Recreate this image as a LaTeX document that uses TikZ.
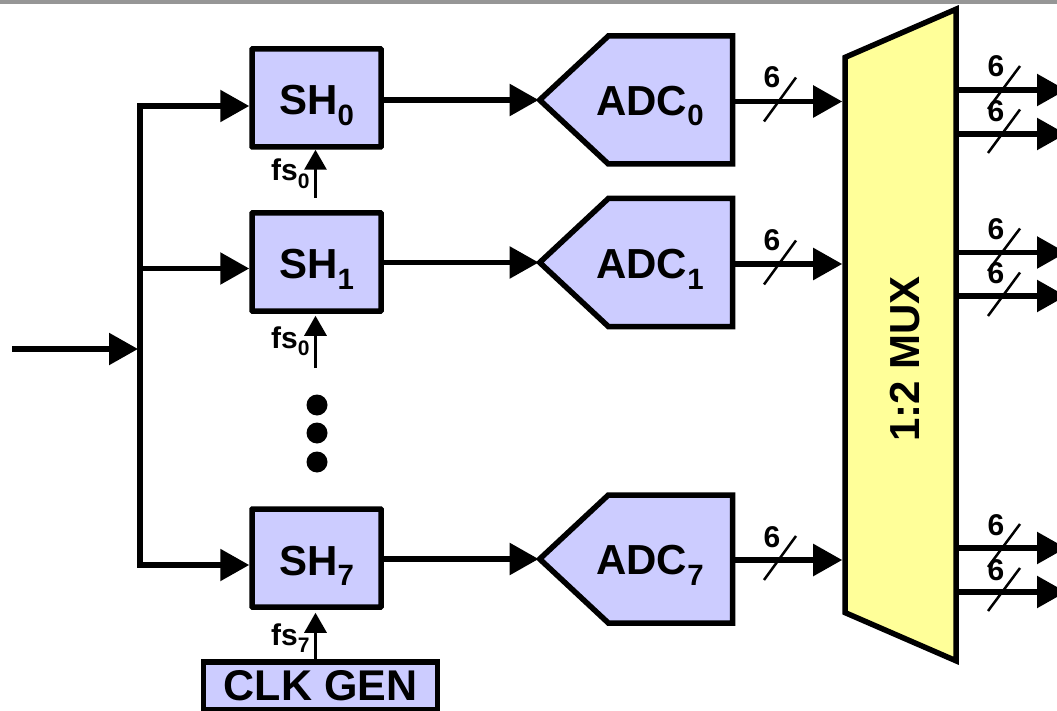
\documentclass[tikz,border=0pt]{standalone}
\usepackage{fontspec}
\setmainfont{Liberation Sans}
\usetikzlibrary{arrows.meta}
\usetikzlibrary{shapes.geometric}
\usetikzlibrary{shapes.symbols}
\definecolor{blockblue}{HTML}{CCCCFF}
\definecolor{muxyellow}{HTML}{FFFF99}
\definecolor{bargray}{HTML}{969696}
\newcommand{\lowidx}[1]{\raisebox{-0.26em}{\scalebox{0.7}{#1}}}
\tikzset{
    shnode/.style = {rectangle, rounded corners=0.5pt, draw=black, line width=5.5pt, fill=blockblue, inner sep=0pt, minimum width=129pt, minimum height=98pt, text height=34pt, text depth=0pt, font=\fontsize{42}{42}\selectfont\bfseries},
    adcnode/.style = {signal, signal to=west, signal pointer angle=86, draw=black, line width=5.5pt, fill=blockblue, inner sep=0pt, minimum width=193pt, minimum height=128pt},
    clknode/.style = {rectangle, draw=black, line width=5.5pt, fill=blockblue, inner sep=0pt, minimum width=234pt, minimum height=48pt, font=\fontsize{43}{43}\selectfont\bfseries},
    muxnode/.style = {trapezium, trapezium stretches=true, trapezium left angle=84, trapezium right angle=84, rotate=90, draw=black, line width=5.5pt, fill=muxyellow, inner sep=0pt, minimum width=652pt, minimum height=111pt},
    txtbig/.style = {inner sep=0pt, font=\fontsize{42}{42}\selectfont\bfseries},
    txtfs/.style = {inner sep=0pt, anchor=base west, font=\fontsize{30}{30}\selectfont\bfseries},
    txtbit/.style = {inner sep=0pt, font=\fontsize{30}{30}\selectfont\bfseries},
    dotnode/.style = {circle, fill=black, inner sep=0pt, minimum size=21pt},
    bus/.style = {line width=5.5pt, -{Triangle[length=29pt,width=31pt]}},
    busline/.style = {line width=5.5pt},
    clkline/.style = {line width=3pt, -{Triangle[length=20pt,width=22pt]}},
    slashmark/.style = {line width=2.5pt},
}
\begin{document}
\begin{tikzpicture}[x=1pt,y=-1pt]
\clip (0,0) rectangle (1057,711);
\fill[bargray] (0,0) rectangle (1057,4);
\node[shnode] at (316.5,98) (sh0) {SH\lowidx{0}};
\node[shnode] at (316.5,262) (sh1) {SH\lowidx{1}};
\node[shnode] at (316.5,558) (sh7) {SH\lowidx{7}};
\node[adcnode] at (670.5,100) (adc0) {};
\node[adcnode] at (670.5,262.5) (adc1) {};
\node[adcnode] at (670.5,559) (adc7) {};
\node[txtbig] at (650,106) (adc0t) {ADC\lowidx{0}};
\node[txtbig] at (650,269) (adc1t) {ADC\lowidx{1}};
\node[txtbig] at (650,565) (adc7t) {ADC\lowidx{7}};
\node[muxnode] at (900.5,335) (mux) {\phantom{M}};
\node[txtbig,rotate=90] at (905,359) (muxt) {1:2 MUX};
\node[clknode] at (320.5,686) (clk) {CLK GEN};
\node[dotnode] at (317,405) (dot0) {};
\node[dotnode] at (317,433) (dot1) {};
\node[dotnode] at (317,462) (dot2) {};
\node[txtfs] at (271,181) (fsl0) {fs\lowidx{0}};
\node[txtfs] at (271,348) (fsl1) {fs\lowidx{0}};
\node[txtfs] at (271,645) (fsl7) {fs\lowidx{7}};
\coordinate (in) at (12,349);
\coordinate (join) at (138,349);
\coordinate (tap0) at (140,106);
\coordinate (tap1) at (140,268.5);
\coordinate (tap7) at (140,565);
\coordinate (fs0) at (315.5,198);
\coordinate (fs1) at (315.5,368);
\coordinate (fs7) at (315.5,660);
\draw[bus] (in) to (join);
\draw[busline] ([yshift=2.75pt]tap0) to ([yshift=-2.75pt]tap7);
\draw[bus] (tap0) to (tap0 -| sh0.west);
\draw[bus] (tap1) to (tap1 -| sh1.west);
\draw[bus] (tap7) to (tap7 -| sh7.west);
\draw[clkline] (fs0) to (fs0 |- sh0.south);
\draw[clkline,shorten >=2pt] (fs1) to (fs1 |- sh1.south);
\draw[clkline,shorten >=3pt] (fs7) to (fs7 |- sh7.south);
\draw[bus,shorten >=-3pt] (sh0.east |- adc0.west) to (adc0.west);
\draw[bus,shorten >=-3pt] (sh1.east |- adc1.west) to (adc1.west);
\draw[bus,shorten >=-3pt] (sh7.east |- adc7.west) to (adc7.west);
\coordinate (adc0o) at ([yshift=-1.5pt]adc0.east);
\coordinate (adc1o) at ([yshift=-1.5pt]adc1.east);
\coordinate (adc7o) at ([yshift=-1pt]adc7.east);
\draw[bus] (adc0o) to (adc0o -| mux.north);
\draw[bus] (adc1o) to (adc1o -| mux.north);
\draw[bus] (adc7o) to (adc7o -| mux.north);
\draw[slashmark] (764,121.5) -- (796,77.5);
\draw[slashmark] (764,284.5) -- (796,240.5);
\draw[slashmark] (764,580) -- (796,536);
\node[txtbit] at (772,77) (bit0) {6};
\node[txtbit] at (772,240) (bit1) {6};
\node[txtbit] at (772,537) (bit7) {6};
\coordinate (out0a) at (1066,90);
\coordinate (out0b) at (1066,134);
\coordinate (out1a) at (1066,252.5);
\coordinate (out1b) at (1066,296);
\coordinate (out7a) at (1066,548);
\coordinate (out7b) at (1066,592);
\draw[bus] (out0a -| mux.south) to (out0a);
\draw[bus] (out0b -| mux.south) to (out0b);
\draw[bus] (out1a -| mux.south) to (out1a);
\draw[bus] (out1b -| mux.south) to (out1b);
\draw[bus] (out7a -| mux.south) to (out7a);
\draw[bus] (out7b -| mux.south) to (out7b);
\draw[slashmark] (988,109) -- (1020,66);
\draw[slashmark] (988,153) -- (1020,109.5);
\draw[slashmark] (988,271) -- (1020,228.5);
\draw[slashmark] (988,316) -- (1020,272.5);
\draw[slashmark] (988,567) -- (1020,524);
\draw[slashmark] (988,611) -- (1020,568);
\node[txtbit] at (996,66.5) (bit0a) {6};
\node[txtbit] at (996,111) (bit0b) {6};
\node[txtbit] at (996,229) (bit1a) {6};
\node[txtbit] at (996,273) (bit1b) {6};
\node[txtbit] at (996,525) (bit7a) {6};
\node[txtbit] at (996,570) (bit7b) {6};
\end{tikzpicture}
\end{document}
